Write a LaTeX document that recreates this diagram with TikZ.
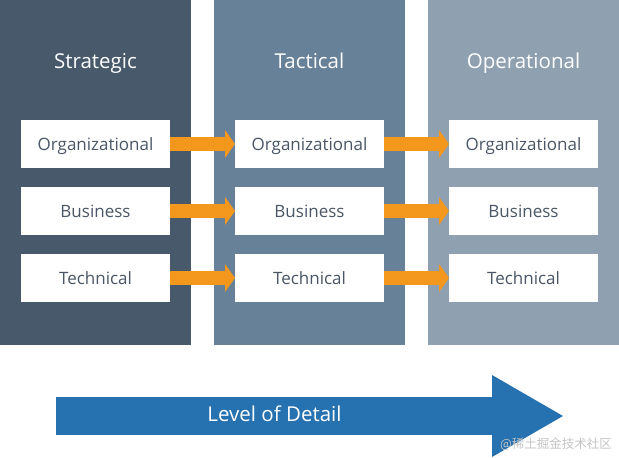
\documentclass[tikz,border=0pt]{standalone}
\usepackage{fontspec}
\setmainfont{Open Sans}
\newfontfamily\cjkfont{Noto Sans CJK SC}
\usetikzlibrary{arrows.meta}

\definecolor{strategiccol}{RGB}{71,89,107}
\definecolor{tacticalcol}{RGB}{102,129,152}
\definecolor{operationalcol}{RGB}{143,160,176}
\definecolor{boxtext}{RGB}{74,86,102}
\definecolor{flowarrow}{RGB}{243,152,29}
\definecolor{detailblue}{RGB}{38,113,176}
\definecolor{markgray}{RGB}{196,196,196}

\begin{document}
\begin{tikzpicture}[x=1pt,y=-1pt,every node/.style={inner sep=0pt, outer sep=0pt},
  coltitle/.style={text=white, font=\fontsize{20.5}{24}\selectfont, text height=14.6pt, text depth=0pt},
  levelbox/.style={fill=white, minimum width=149pt, minimum height=48pt, text=boxtext, font=\fontsize{17}{20}\selectfont, text height=12.2pt, text depth=0pt},
  flow/.style={draw=flowarrow, line width=14pt, -{Triangle[length=10pt,width=28pt,line width=0pt]}}]
\useasboundingbox (0,0) rectangle (619,458);
% columns
\fill[strategiccol] (0,0) rectangle (191,345);
\fill[tacticalcol] (214,0) rectangle (405,345);
\fill[operationalcol] (428,0) rectangle (619,345);
\node[coltitle] (strategic) at (95.5,61) {Strategic};
\node[coltitle] (tactical) at (309.5,61) {Tactical};
\node[coltitle] (operational) at (523.5,61) {Operational};
% boxes
\node[levelbox] (org1) at (95.5,144) {Organizational};
\node[levelbox] (bus1) at (95.5,211) {Business};
\node[levelbox] (tec1) at (95.5,278) {Technical};
\node[levelbox] (org2) at (309.5,144) {Organizational};
\node[levelbox] (bus2) at (309.5,211) {Business};
\node[levelbox] (tec2) at (309.5,278) {Technical};
\node[levelbox] (org3) at (523.5,144) {Organizational};
\node[levelbox] (bus3) at (523.5,211) {Business};
\node[levelbox] (tec3) at (523.5,278) {Technical};
% arrows
\draw[flow] (org1.east) -- (org2.west);
\draw[flow] (bus1.east) -- (bus2.west);
\draw[flow] (tec1.east) -- (tec2.west);
\draw[flow] (org2.east) -- (org3.west);
\draw[flow] (bus2.east) -- (bus3.west);
\draw[flow] (tec2.east) -- (tec3.west);
% level of detail
\coordinate (detailstart) at (56,416);
\coordinate (detailend) at (563,416);
\draw[detailblue, line width=38pt, -{Triangle[length=71pt,width=82pt,line width=0pt]}] (detailstart) -- (detailend);
\node[text=white, font=\fontsize{20.5}{24}\selectfont, text height=14.6pt, text depth=0pt] (detail) at (274.5,414) {Level of Detail};
\node[text=markgray, font=\cjkfont\fontsize{12.5}{15}\selectfont] (mark) at (556,444) {@稀土掘金技术社区};
\end{tikzpicture}
\end{document}
